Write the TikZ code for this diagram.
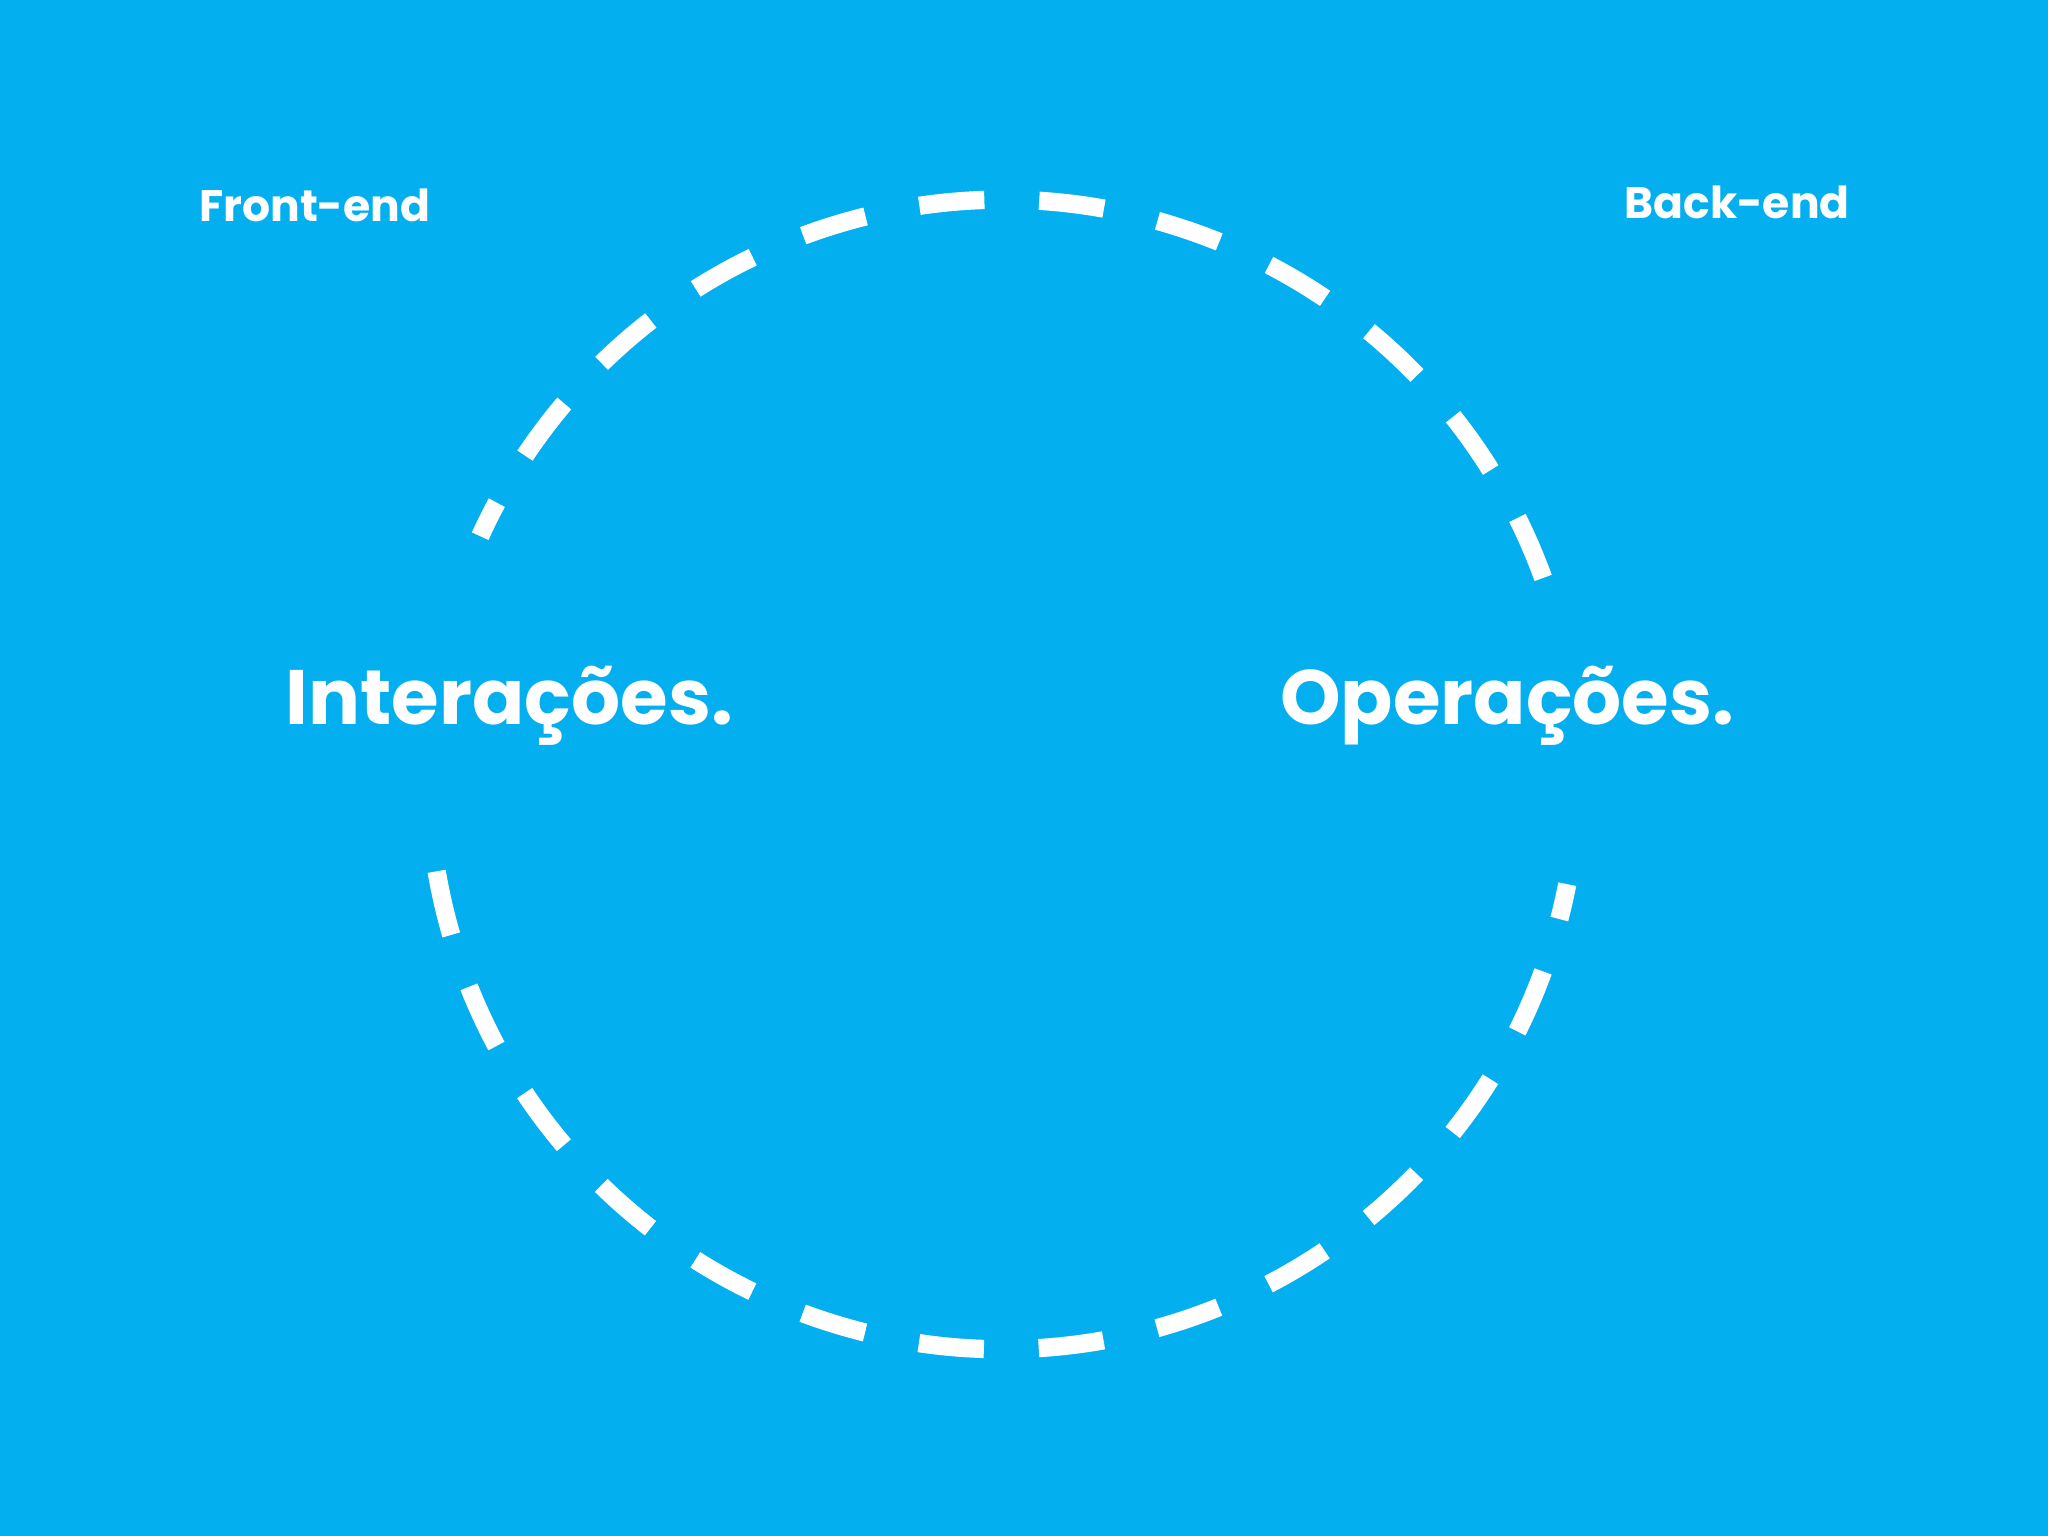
\documentclass[tikz,border=0pt]{standalone}
\usepackage{fontspec}
\setmainfont{Poppins}
\definecolor{bg}{HTML}{03AFEF}
\begin{document}
\begin{tikzpicture}
\fill[bg] (0,0) rectangle (15.68,11.76);
\useasboundingbox (0,0) rectangle (15.68,11.76);
\tikzset{ring/.style={white,line width=0.14cm,dash pattern=on 0.5cm off 0.42cm},
  big/.style={white,font=\fontsize{16.8pt}{20pt}\selectfont\bfseries},
  small/.style={white,font=\fontsize{9.6pt}{12pt}\selectfont\bfseries}}
\coordinate (c) at (7.68,5.83);
\draw[ring] ([shift={(20:4.4)}]c) arc[start angle=20,end angle=155.5,radius=4.4];
\draw[ring] ([shift={(189.7:4.4)}]c) arc[start angle=189.7,end angle=349,radius=4.4];
\node[big] (i) at (3.90,6.36) {Interações.};
\node[big] (o) at (11.54,6.36) {Operações.};
\node[small] (f) at (2.41,10.19) {Front-end};
\node[small] (b) at (13.30,10.21) {Back-end};
\end{tikzpicture}
\end{document}
